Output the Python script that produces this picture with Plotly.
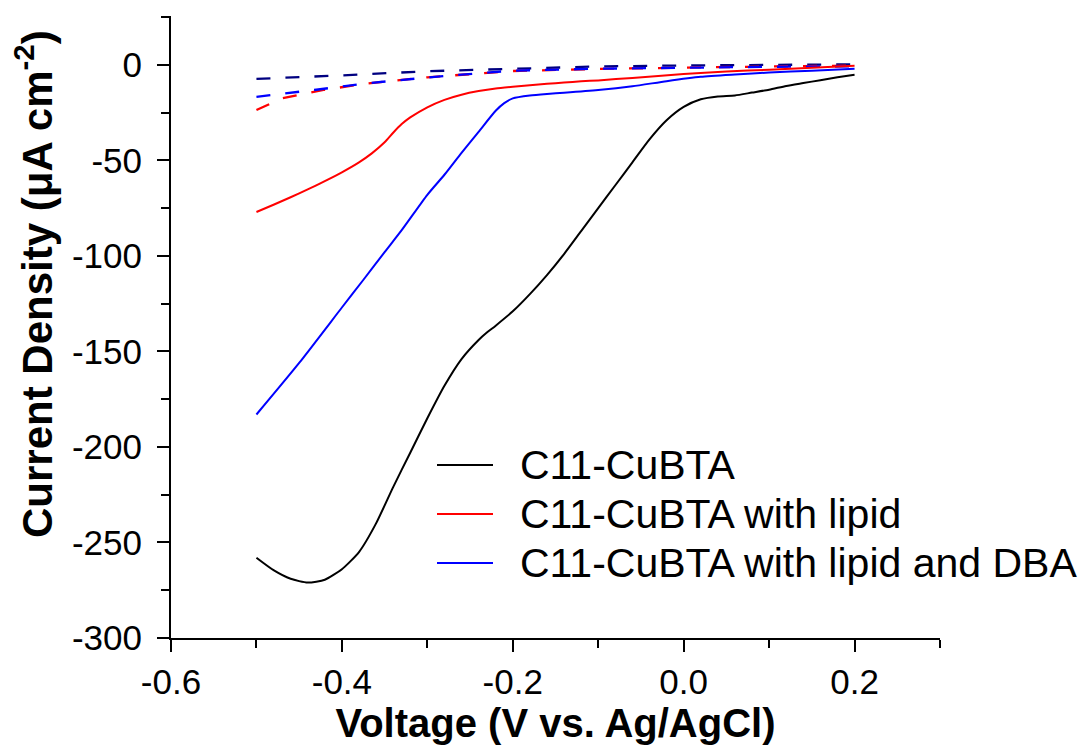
import plotly.graph_objects as go

# ---- data ----
black_v = [-0.5, -0.48, -0.46, -0.44, -0.42, -0.40, -0.38, -0.36, -0.34, -0.32, -0.30, -0.28,
           -0.26, -0.24, -0.23, -0.22, -0.20, -0.18, -0.16, -0.14, -0.12, -0.10, -0.08, -0.06,
           -0.04, -0.02, 0.0, 0.02, 0.04, 0.06, 0.08, 0.10, 0.12, 0.14, 0.16, 0.18, 0.20]
black_i = [-258, -264.5, -269, -271, -269.5, -264, -255, -240, -221, -203, -185, -168,
           -154, -144, -140, -136.5, -129, -120, -110, -99, -87, -75, -63, -51,
           -39, -29, -22, -18, -16.5, -16, -14.5, -13, -11, -9.5, -8, -6.5, -5.2]

red_v = [-0.5, -0.48, -0.46, -0.44, -0.42, -0.40, -0.38, -0.365, -0.35, -0.34, -0.33, -0.32,
         -0.30, -0.28, -0.26, -0.24, -0.22, -0.20, -0.18, -0.16, -0.14, -0.12, -0.10, -0.06,
         0.0, 0.05, 0.10, 0.15, 0.20]
red_i = [-77, -73.2, -69.3, -65.2, -60.8, -56.2, -51, -46.3, -40.5, -35.5, -31, -27.5,
         -22.2, -18.3, -15.6, -13.7, -12.3, -11.4, -10.6, -9.9, -9.2, -8.6, -8.1, -6.8,
         -4.8, -3.5, -2.5, -1.5, -0.5]

blue_v = [-0.5, -0.45, -0.40, -0.375, -0.35, -0.33, -0.30, -0.28, -0.26, -0.24, -0.22, -0.21,
          -0.20, -0.18, -0.16, -0.14, -0.10, -0.06, -0.02, 0.02, 0.06, 0.10, 0.15, 0.20]
blue_i = [-183, -156, -127, -112.6, -98, -86.5, -68, -57.5, -46, -35, -24, -20,
          -17.5, -16, -15.2, -14.6, -13.2, -11.2, -8.5, -6.2, -5, -4, -3, -2]

navy_dash_v = [-0.5, -0.4, -0.3, -0.2, -0.1, 0.0, 0.1, 0.2]
navy_dash_i = [-7.3, -5.5, -3.3, -2.0, -0.8, -0.3, 0.0, 0.3]

red_dash_v = [-0.5, -0.47, -0.42, -0.37, -0.3, -0.2, -0.1, 0.0, 0.1, 0.2]
red_dash_i = [-23.6, -17.5, -13, -9.7, -6.5, -3.2, -2.1, -1.4, -0.8, -0.4]

blue_dash_v = [-0.5, -0.46, -0.43, -0.37, -0.3, -0.23, -0.2, -0.1, 0.0, 0.1, 0.2]
blue_dash_i = [-16.7, -14.7, -13, -9.6, -6.6, -4, -3, -2, -1.4, -1.0, -0.8]

labels = ["C11-CuBTA", "C11-CuBTA with lipid", "C11-CuBTA with lipid and DBA"]
label_colors = ["#000000", "#ff0000", "#0000ff"]

x_ticks = [-0.6, -0.4, -0.2, 0.0, 0.2]
x_ticktext = ["-0.6", "-0.4", "-0.2", "0.0", "0.2"]
y_ticks = [0, -50, -100, -150, -200, -250, -300]
y_ticktext = ["0", "-50", "-100", "-150", "-200", "-250", "-300"]

FONT = "Arial, Liberation Sans, sans-serif"

# layout geometry (pixels in the 1091x747 canvas)
W, H = 1091, 747
L, R, T, B = 171, 151, 16, 109
PW, PH = W - L - R, H - T - B


def px(xp):
    return (xp - L) / PW


def py(yp):
    return (H - B - yp) / PH


fig = go.Figure()

for v, i, c in [(navy_dash_v, navy_dash_i, "#000080"),
                (red_dash_v, red_dash_i, "#ff0000"),
                (blue_dash_v, blue_dash_i, "#0000ff")]:
    fig.add_trace(go.Scatter(x=v, y=i, mode="lines", showlegend=False,
                             line=dict(color=c, width=2.3, dash="14px,15px")))

for v, i, c, name in [(black_v, black_i, label_colors[0], labels[0]),
                      (red_v, red_i, label_colors[1], labels[1]),
                      (blue_v, blue_i, label_colors[2], labels[2])]:
    fig.add_trace(go.Scatter(x=v, y=i, mode="lines", name=name, showlegend=False,
                             line=dict(color=c, width=2, shape="spline", smoothing=0.6)))

# legend drawn as key lines + text
legend_rows = [465, 514, 563]
for row, name, c in zip(legend_rows, labels, label_colors):
    fig.add_shape(type="line", xref="paper", yref="paper",
                  x0=px(437), x1=px(493), y0=py(row), y1=py(row),
                  line=dict(color=c, width=2))
    fig.add_annotation(text=name, xref="paper", yref="paper", x=px(518), y=py(row),
                       xanchor="left", yanchor="middle", showarrow=False,
                       font=dict(family=FONT, size=41, color="#000000"))

axis_common = dict(showgrid=False, zeroline=False, showline=True, linecolor="#000000",
                   linewidth=2, ticks="outside", ticklen=12, tickwidth=2, tickcolor="#000000",
                   tickfont=dict(family=FONT, size=35, color="#000000"))

fig.update_xaxes(range=[-0.6, 0.3], tickvals=x_ticks, ticktext=x_ticktext,
                 minor=dict(tickvals=[-0.5, -0.3, -0.1, 0.1, 0.3], ticklen=8, tickwidth=2,
                            tickcolor="#000000", ticks="outside"),
                 title=dict(text="<b>Voltage (V vs. Ag/AgCl)</b>",
                            font=dict(family=FONT, size=40, color="#000000"), standoff=4),
                 **axis_common)
fig.update_yaxes(range=[-300, 25.6], tickvals=y_ticks, ticktext=y_ticktext,
                 minor=dict(tickvals=[25, -25, -75, -125, -175, -225, -275], ticklen=8,
                            tickwidth=2, tickcolor="#000000", ticks="outside"),
                 ticklabelstandoff=8,
                 **axis_common)

fig.add_annotation(text="<b>Current Density (μA cm<sup>-2</sup>)</b>", textangle=-90,
                   xref="paper", yref="paper", x=px(34), y=py(284),
                   xanchor="center", yanchor="middle", showarrow=False,
                   font=dict(family=FONT, size=42, color="#000000"))

fig.update_layout(
    width=W, height=H,
    margin=dict(l=L, r=R, t=T, b=B),
    paper_bgcolor="white", plot_bgcolor="white",
    showlegend=False,
)

fig.write_html("out.html")
